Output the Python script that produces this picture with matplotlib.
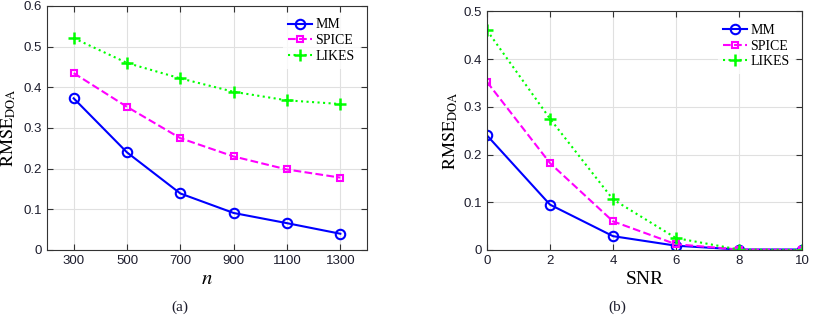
import matplotlib.pyplot as plt

n_vals = [300, 500, 700, 900, 1100, 1300]
mm_n = [0.373, 0.240, 0.139, 0.091, 0.066, 0.040]
spice_n = [0.435, 0.352, 0.275, 0.230, 0.198, 0.178]
likes_n = [0.521, 0.460, 0.422, 0.389, 0.368, 0.359]

snr_vals = [0, 2, 4, 6, 8, 10]
mm_snr = [0.240, 0.095, 0.029, 0.009, 0.001, 0.001]
spice_snr = [0.352, 0.182, 0.060, 0.012, 0.001, 0.000]
likes_snr = [0.460, 0.275, 0.106, 0.025, 0.001, 0.000]

plt.rcParams['mathtext.fontset'] = 'stix'
serif = 'Liberation Serif'
sans = 'Liberation Sans'
tick_col = '#1c1c2c'

fig = plt.figure(figsize=(8.13, 3.18), dpi=100)
ax1 = fig.add_axes([47 / 813, 1 - 250 / 318, 320 / 813, 244 / 318])
ax2 = fig.add_axes([487 / 813, 1 - 250 / 318, 315 / 813, 238.7 / 318])


def draw(ax, x, mm, spice, likes, label_x):
    ax.plot(x, mm, '-o', color='#0000ff', lw=1.5, ms=6.8, mfc='none', mew=1.5, label='MM')
    ax.plot(x, spice, '--s', color='#ff00ff', lw=1.5, ms=5, mfc='none', mew=1.5, label='SPICE')
    ax.plot(x, likes, ':+', color='#00ff00', lw=1.5, ms=8, mew=1.8, label='LIKES')
    ax.grid(True, color='#e0e0e0', lw=0.8)
    ax.set_axisbelow(True)
    ax.tick_params(direction='in', top=True, right=True, length=4, color='#333333',
                   labelsize=9.5, labelcolor=tick_col)
    for s in ax.spines.values():
        s.set_color('#333333')
        s.set_linewidth(0.8)
    leg = ax.legend(loc='upper right', frameon=True, fancybox=False, edgecolor='white',
                    prop={'family': serif, 'size': 10}, handlelength=1.7,
                    handletextpad=0.25, labelspacing=0.2, borderaxespad=0.5)
    leg.get_frame().set_linewidth(0)
    ax.set_ylabel(r'$\mathrm{RMSE}_{\mathrm{DOA}}$', fontsize=13)
    ax.yaxis.set_label_coords(label_x, 0.5)


draw(ax1, n_vals, mm_n, spice_n, likes_n, -0.09)
ax1.set_xlim(200, 1400)
ax1.set_ylim(0, 0.6)
ax1.set_xticks(n_vals)
ax1.set_yticks([0, 0.1, 0.2, 0.3, 0.4, 0.5, 0.6])
ax1.set_yticklabels(['0', '0.1', '0.2', '0.3', '0.4', '0.5', '0.6'], family=sans)
ax1.set_xticklabels([str(v) for v in n_vals], family=sans)
ax1.set_xlabel(r'$n$', fontsize=15, labelpad=1)

draw(ax2, snr_vals, mm_snr, spice_snr, likes_snr, -0.085)
ax2.set_xlim(0, 10)
ax2.set_ylim(0, 0.5)
ax2.set_xticks(snr_vals)
ax2.set_yticks([0, 0.1, 0.2, 0.3, 0.4, 0.5])
ax2.set_yticklabels(['0', '0.1', '0.2', '0.3', '0.4', '0.5'], family=sans)
ax2.set_xticklabels([str(v) for v in snr_vals], family=sans)
ax2.set_xlabel('SNR', fontsize=14, family=serif, labelpad=3)

fig.text(180 / 813, 1 - 307 / 318, '(a)', ha='center', va='center', family=serif,
         fontsize=11, color=tick_col)
fig.text(617 / 813, 1 - 307 / 318, '(b)', ha='center', va='center', family=serif,
         fontsize=11, color=tick_col)

fig.savefig('out.png', dpi=100)
